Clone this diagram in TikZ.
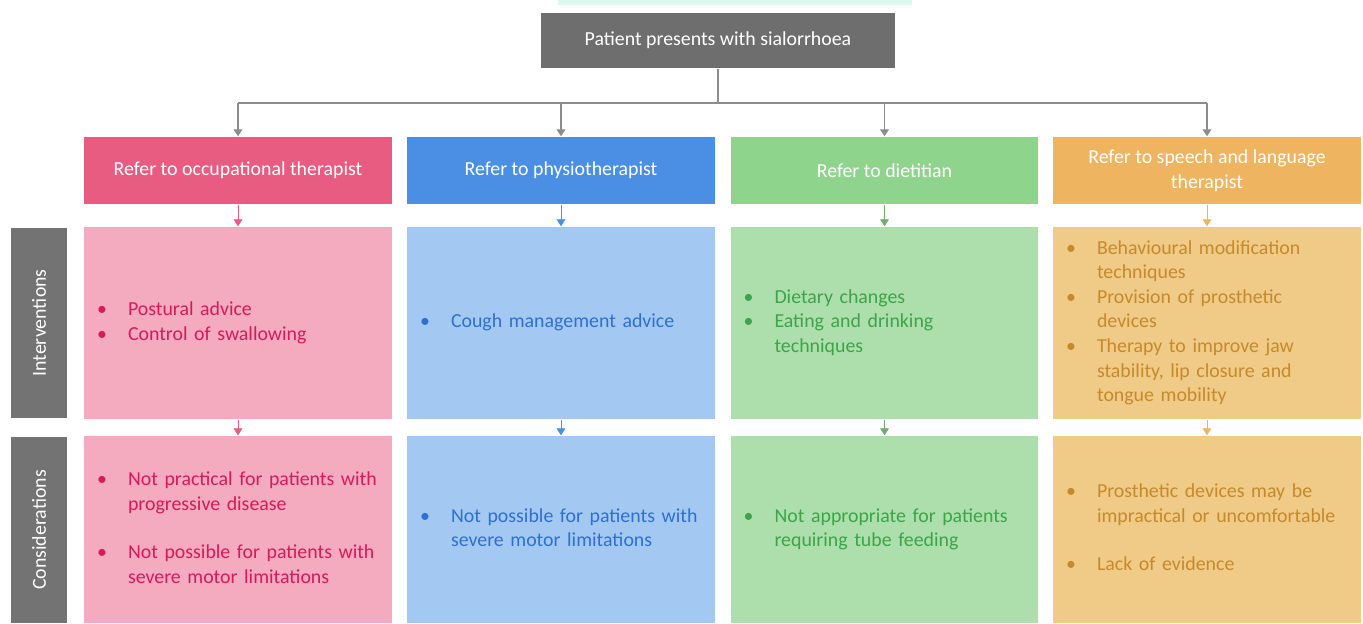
\documentclass[tikz,border=0pt]{standalone}
\usepackage{fontspec}
\setmainfont{Carlito}
\usetikzlibrary{arrows.meta}

\definecolor{topgrey}{HTML}{6E6E6E}
\definecolor{sidegrey}{HTML}{737373}
\definecolor{linegrey}{HTML}{8C8C8C}
\definecolor{mintbar}{HTML}{DDF7EF}
\definecolor{pinkhdr}{HTML}{E95C81}
\definecolor{pinkbody}{HTML}{F4AABF}
\definecolor{pinktxt}{HTML}{D61A5A}
\definecolor{bluehdr}{HTML}{4A8FE4}
\definecolor{bluebody}{HTML}{A3C9F3}
\definecolor{bluetxt}{HTML}{2F6FCF}
\definecolor{greenhdr}{HTML}{8FD48D}
\definecolor{greenbody}{HTML}{ACDFAB}
\definecolor{greentxt}{HTML}{3DA44A}
\definecolor{orangehdr}{HTML}{EFB460}
\definecolor{orangebody}{HTML}{F0CA87}
\definecolor{orangetxt}{HTML}{C68A2C}

% bullet list: first column holds the bullet
\newcommand{\blist}[1]{\noindent\begin{tabular}{@{}p{0.62cm}@{}l@{}}#1\end{tabular}}

\begin{document}
\begin{tikzpicture}[
        x = 0.02cm, y = -0.02cm,
        > = {Triangle[length = 4pt, width = 5pt]},
        line width = 0.8pt,
        every node/.style = {font = {\fontsize{11.3}{14}\selectfont}},
        hdr/.style = {minimum width = 6.16cm, minimum height = 1.34cm, align = center, text = white, inner sep = 0pt},
        body/.style = {minimum width = 6.16cm, text width = 5.64cm, inner xsep = 0.26cm, inner ysep = 0pt, align = left},
        interv/.style = {body, minimum height = 3.84cm},
        consid/.style = {body, minimum height = 3.74cm},
        side/.style = {fill = sidegrey, text = white, rotate = 90, minimum height = 1.12cm, inner sep = 0pt},
        conn/.style = {draw = linegrey}
    ]
    \useasboundingbox (0,0) rectangle (1363,623);
    \fill[mintbar] (558,0) rectangle (912,5);

    % top
    \node[fill = topgrey, text = white, minimum width = 7.08cm, minimum height = 1.1cm] (top) at (718,40.5) {Patient presents with sialorrhoea};

    % headers
    \node[hdr, fill = pinkhdr] (ot) at (238,170.5) {Refer to occupational therapist};
    \node[hdr, fill = bluehdr] (pt) at (561,170.5) {Refer to physiotherapist};
    \node[hdr, fill = greenhdr] (diet) at (884.5,170.5) {Refer to dietitian};
    \node[hdr, fill = orangehdr] (slt) at (1207,170.5) {Refer to speech and language\\therapist};

    % side labels
    \node[side, minimum width = 3.8cm] (intlab) at (39,323) {Interventions};
    \node[side, minimum width = 3.72cm] (conlab) at (39,530) {Considerations};

    % interventions
    \node[interv, fill = pinkbody, text = pinktxt] (otI) at (238,323) {\blist{\textbullet & Postural advice\\ \textbullet & Control of swallowing}};
    \node[interv, fill = bluebody, text = bluetxt] (ptI) at (561,323) {\blist{\textbullet & Cough management advice}};
    \node[interv, fill = greenbody, text = greentxt] (dietI) at (884.5,323) {\blist{\textbullet & Dietary changes\\ \textbullet & Eating and drinking\\ & techniques}};
    \node[interv, fill = orangebody, text = orangetxt] (sltI) at (1207,323) {\blist{\textbullet & Behavioural modification\\ & techniques\\ \textbullet & Provision of prosthetic\\ & devices\\ \textbullet & Therapy to improve jaw\\ & stability, lip closure and\\ & tongue mobility}};

    % considerations
    \node[consid, fill = pinkbody, text = pinktxt] (otC) at (238,529.5) {\blist{\textbullet & Not practical for patients with\\ & progressive disease\\[13.5pt] \textbullet & Not possible for patients with\\ & severe motor limitations}};
    \node[consid, fill = bluebody, text = bluetxt] (ptC) at (561,529.5) {\blist{\textbullet & Not possible for patients with\\ & severe motor limitations}};
    \node[consid, fill = greenbody, text = greentxt] (dietC) at (884.5,529.5) {\blist{\textbullet & Not appropriate for patients\\ & requiring tube feeding}};
    \node[consid, fill = orangebody, text = orangetxt] (sltC) at (1207,529.5) {\blist{\textbullet & Prosthetic devices may be\\ & impractical or uncomfortable\\[13.5pt] \textbullet & Lack of evidence}};

    % connectors
    \coordinate (split) at (718,103);
    \draw[conn] (top.south) -- (split);
    \draw[conn] (split -| ot.north) -- (split -| slt.north);
    \draw[conn, ->] (split -| ot.north) -- (ot.north);
    \draw[conn, ->] (split -| pt.north) -- (pt.north);
    \draw[conn, ->] (split -| diet.north) -- (diet.north);
    \draw[conn, ->] (split -| slt.north) -- (slt.north);

    \draw[->, pinkhdr, line width = 0.5pt] (ot.south) -- (otI.north);
    \draw[->, bluehdr, line width = 0.5pt] (pt.south) -- (ptI.north);
    \draw[->, greenhdr!80!black, line width = 0.5pt] (diet.south) -- (dietI.north);
    \draw[->, orangehdr, line width = 0.5pt] (slt.south) -- (sltI.north);
    \draw[->, pinkhdr, line width = 0.5pt] (otI.south) -- (otC.north);
    \draw[->, bluehdr, line width = 0.5pt] (ptI.south) -- (ptC.north);
    \draw[->, greenhdr!80!black, line width = 0.5pt] (dietI.south) -- (dietC.north);
    \draw[->, orangehdr, line width = 0.5pt] (sltI.south) -- (sltC.north);
\end{tikzpicture}
\end{document}
